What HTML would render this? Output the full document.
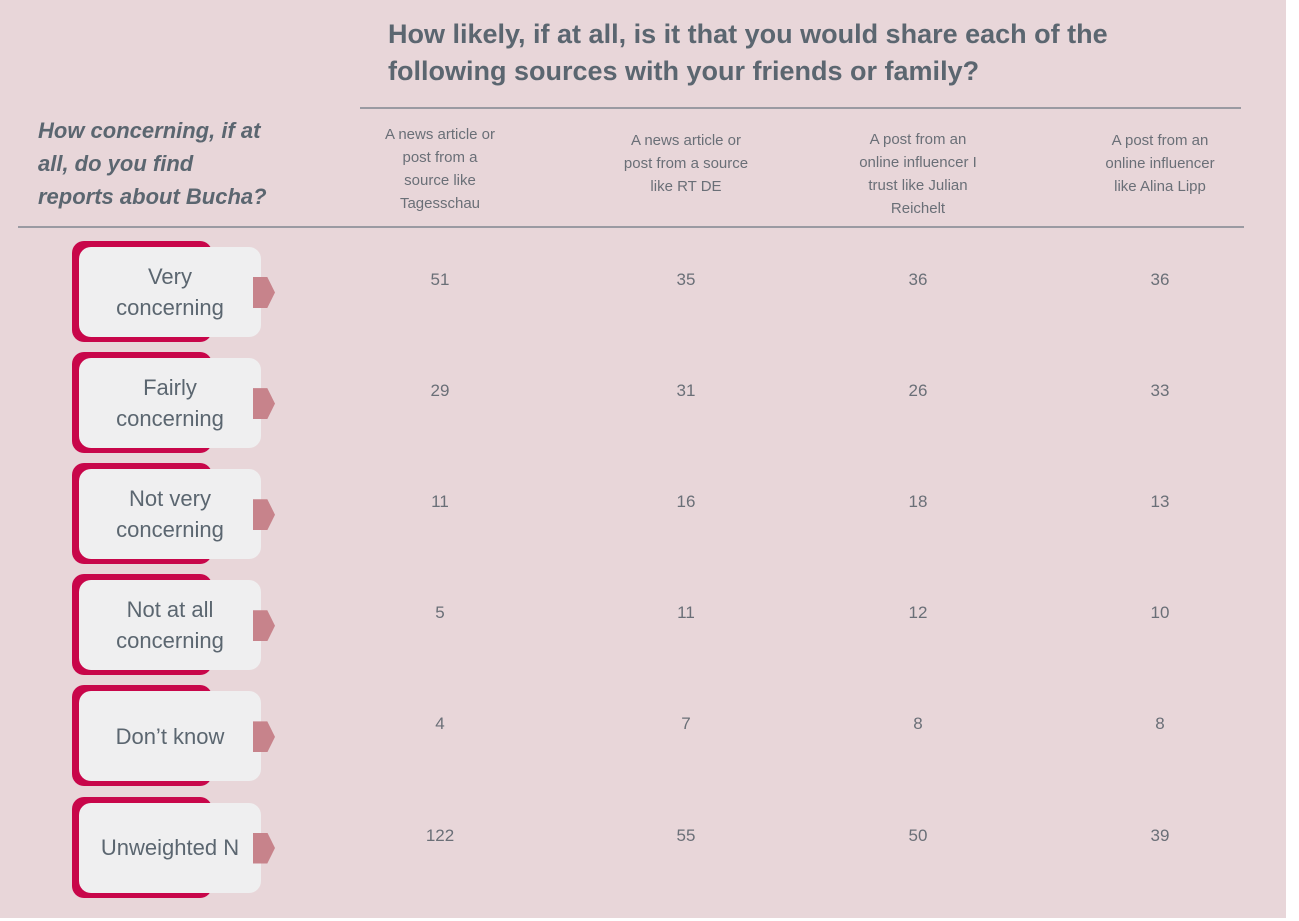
<!DOCTYPE html>
<html><head><meta charset="utf-8"><style>
body{margin:0;background:#fff;width:1299px;height:921px;overflow:hidden;font-family:"Liberation Sans",sans-serif;}
#bg{position:absolute;left:0;top:0;width:1286px;height:918px;background:#e8d6d9;}
.t{position:absolute;color:#5b6670;}
.title{left:388px;top:16px;font-size:27px;font-weight:bold;line-height:37px;width:850px;white-space:nowrap;}
.rowt{left:38px;top:114px;font-size:22px;font-weight:bold;font-style:italic;line-height:33px;width:290px;white-space:nowrap;}
.hline{position:absolute;height:2px;background:#9a9aa2;}
.ch{font-size:15px;line-height:23px;text-align:center;width:180px;color:#6a6f77;white-space:nowrap;}
.back{position:absolute;left:72px;width:140px;height:101px;background:#c8064a;border-radius:12px;}
.box{position:absolute;left:79px;width:182px;height:90px;background:#efeff0;border-radius:12px;display:flex;align-items:center;justify-content:center;text-align:center;font-size:22px;line-height:31px;color:#5b6670;white-space:nowrap;}
.arr{position:absolute;left:253px;width:22px;height:31px;background:#c7838b;clip-path:polygon(0 0,65% 0,100% 50%,65% 100%,0 100%);}
.v{font-size:17px;color:#6a6f77;width:80px;text-align:center;}
</style></head><body>
<div id="bg"></div>
<div class="t title">How likely, if at all, is it that you would share each of the<br>following sources with your friends or family?</div>
<div class="hline" style="left:360px;top:107px;width:881px"></div>
<div class="t rowt">How concerning, if at<br>all, do you find<br>reports about Bucha?</div>
<div class="hline" style="left:18px;top:226px;width:1226px"></div>
<div id="table"></div>
<script>
const categories=["Very concerning","Fairly concerning","Not very concerning","Not at all concerning","Don’t know","Unweighted N"];
const columns=["A news article or post from a source like Tagesschau","A news article or post from a source like RT DE","A post from an online influencer I trust like Julian Reichelt","A post from an online influencer like Alina Lipp"];
const colTagesschau=[51,29,11,5,4,122];
const colRTDE=[35,31,16,11,7,55];
const colReichelt=[36,26,18,12,8,50];
const colLipp=[36,33,13,10,8,39];
const series=[colTagesschau,colRTDE,colReichelt,colLipp];
const colX=i=>[440,686,918,1160][i];
const rowY=i=>241+i*111.1;
const root=document.getElementById('table');
const headLines=[["A news article or","post from a","source like","Tagesschau"],["A news article or","post from a source","like RT DE"],["A post from an","online influencer I","trust like Julian","Reichelt"],["A post from an","online influencer","like Alina Lipp"]];
const headTops=[123,129,128,129];
const labelLines=[["Very","concerning"],["Fairly","concerning"],["Not very","concerning"],["Not at all","concerning"],["Don’t know"],["Unweighted N"]];
columns.forEach((c,i)=>{
 const d=document.createElement('div');
 d.className='t ch';d.innerHTML=headLines[i].join('<br>');
 d.title=c;
 d.style.left=(colX(i)-90)+'px';d.style.top=headTops[i]+'px';
 
 
 root.appendChild(d);
});
categories.forEach((c,r)=>{
 const y=rowY(r);
 const b=document.createElement('div');b.className='back';b.style.top=y+'px';
 
 
 root.appendChild(b);
 const x=document.createElement('div');x.className='box';x.style.top=(y+6)+'px';x.innerHTML=labelLines[r].join('<br>');
 
 
 root.appendChild(x);
 const a=document.createElement('div');a.className='arr';a.style.top=(y+36)+'px';
 
 
 root.appendChild(a);
 series.forEach((s,i)=>{
  const v=document.createElement('div');v.className='t v';v.textContent=s[r];
  v.style.left=(colX(i)-40)+'px';v.style.top=(y+29)+'px';
  
  
  root.appendChild(v);
 });
});
</script>
</body></html>
